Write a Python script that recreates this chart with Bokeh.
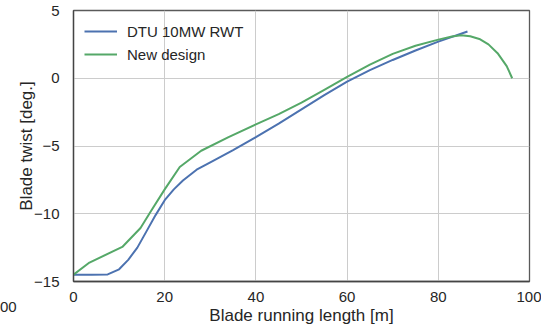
from bokeh.plotting import figure
from bokeh.models import Range1d, FixedTicker, Legend, LegendItem, Div
from bokeh.layouts import column
from bokeh.embed import file_html
from bokeh.resources import INLINE

# Blade twist distributions along the blade span
dtu_length = [0, 4, 7.5, 10, 12, 14, 16, 18, 20, 22, 24, 27, 30, 35, 40, 45,
              50, 55, 60, 65, 70, 75, 80, 86.4]
dtu_twist = [-14.5, -14.5, -14.48, -14.1, -13.4, -12.5, -11.3, -10.1, -9.0,
             -8.2, -7.55, -6.75, -6.2, -5.3, -4.35, -3.35, -2.3, -1.25, -0.25,
             0.6, 1.35, 2.05, 2.7, 3.45]

new_length = [0, 3.5, 10.7, 14.7, 17, 20, 23.3, 28, 34, 40, 45, 50, 55, 60,
              65, 70, 75, 80, 83, 85, 87, 89, 91, 93, 95, 96.2]
new_twist = [-14.5, -13.6, -12.45, -11.05, -9.8, -8.2, -6.55, -5.35, -4.35,
             -3.4, -2.65, -1.8, -0.85, 0.1, 1.0, 1.8, 2.4, 2.85, 3.08, 3.17,
             3.1, 2.9, 2.5, 1.85, 0.9, 0.0]

x_ticks = [0, 20, 40, 60, 80, 100]
y_ticks = [-15, -10, -5, 0, 5]

FONT = "Liberation Sans"
TEXT = "#262626"

p = figure(width=541, height=327, output_backend="svg", toolbar_location=None,
           x_range=Range1d(0, 100), y_range=Range1d(-15, 5),
           min_border_left=73, min_border_right=12, min_border_top=10,
           min_border_bottom=43)

p.background_fill_color = "white"
p.border_fill_color = "white"
p.outline_line_color = "#5a5a5a"
p.outline_line_width = 1.3

for ax in (p.xaxis[0], p.yaxis[0]):
    ax.major_label_text_font = FONT
    ax.major_label_text_font_size = "15px"
    ax.major_label_text_color = TEXT
    ax.axis_label_text_font = FONT
    ax.axis_label_text_font_size = "17px"
    ax.axis_label_text_font_style = "normal"
    ax.axis_label_text_color = TEXT
    ax.axis_line_color = "#444444"
    ax.axis_line_width = 1.3
    ax.major_tick_line_color = None
    ax.minor_tick_line_color = None

p.xaxis.ticker = FixedTicker(ticks=x_ticks)
p.yaxis.ticker = FixedTicker(ticks=y_ticks)
p.yaxis.major_label_overrides = {t: str(t).replace("-", "\u2212") for t in y_ticks}
p.xaxis.axis_label = "Blade running length [m]"
p.yaxis.axis_label = "Blade twist [deg.]"
p.xaxis.major_label_standoff = 4
p.xaxis.axis_label_standoff = 1
p.yaxis.major_label_standoff = 8
p.yaxis.axis_label_standoff = -5

p.xgrid.grid_line_color = "#cccccc"
p.ygrid.grid_line_color = "#cccccc"
p.xgrid.grid_line_width = 1
p.ygrid.grid_line_width = 1

r1 = p.line(dtu_length, dtu_twist, line_color="#4C72B0", line_width=2)
r2 = p.line(new_length, new_twist, line_color="#55A868", line_width=2)

legend = Legend(items=[LegendItem(label="DTU 10MW RWT", renderers=[r1]),
                       LegendItem(label="New design", renderers=[r2])],
                location="top_left", background_fill_alpha=0,
                border_line_color=None, label_text_font=FONT,
                label_text_font_size="15px", label_text_color=TEXT,
                glyph_width=33, label_standoff=10, spacing=3, padding=6,
                margin=11)
p.add_layout(legend)

# tick label of the neighbouring panel, showing at the page edge
edge_label = Div(
    text=(f'<span style="font-family:\'{FONT}\';font-size:15px;'
          f'color:{TEXT};line-height:18px">00</span>'),
    width=20, height=18,
    styles={"position": "absolute", "left": "-5px", "top": "293px"})

layout = column(p, edge_label, spacing=0)

open("out.html", "w").write(file_html(layout, INLINE))
